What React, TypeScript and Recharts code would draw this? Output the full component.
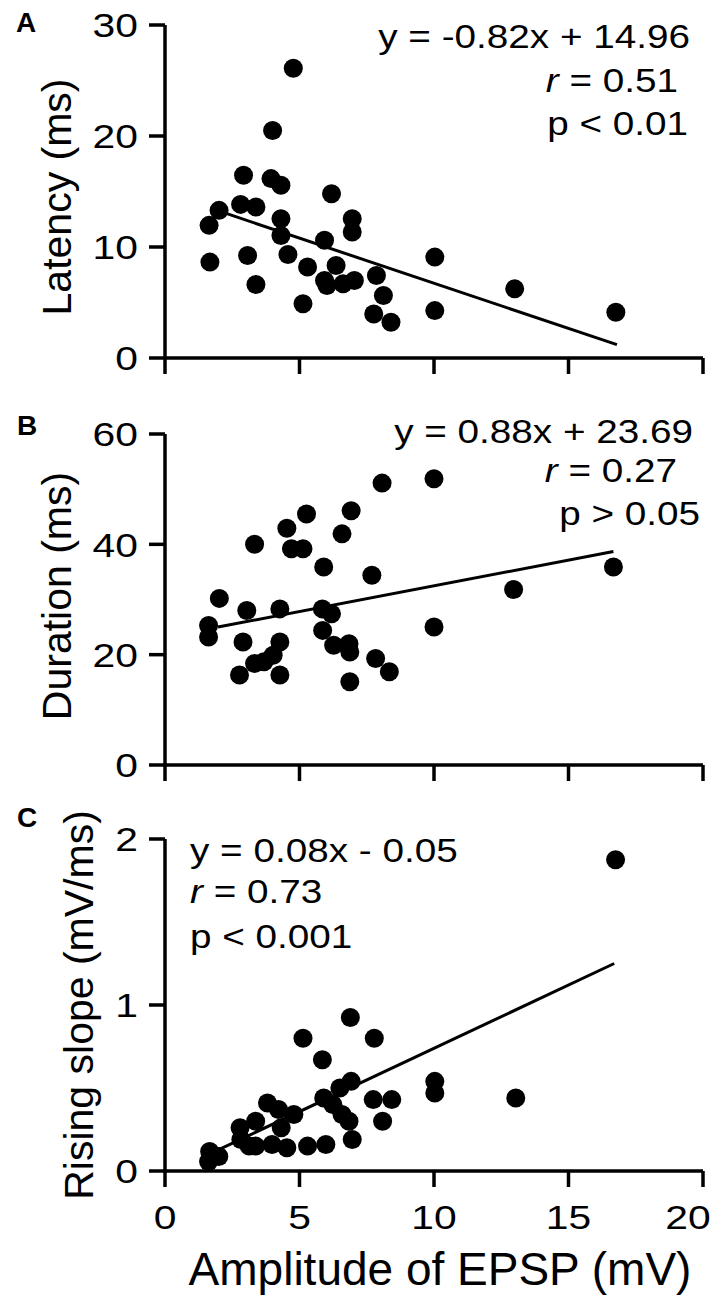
import React from "react";
import { ScatterChart, Scatter, XAxis, YAxis, ReferenceLine } from "recharts";

// Panel A: latency vs EPSP amplitude
const ampA = [1.64, 1.67, 2.01, 2.92, 2.81, 3.38, 3.07, 3.38, 3.94, 4.31, 4.0, 4.77, 4.31, 4.31, 4.57, 5.3, 5.13, 5.93, 6.19, 5.93, 6.36, 6.62, 6.02, 6.96, 6.96, 7.04, 7.86, 8.12, 7.76, 8.4, 10.03, 10.03, 13.0, 16.76];
const latency = [11.95, 8.64, 13.3, 16.46, 13.84, 13.6, 9.24, 6.62, 16.16, 15.56, 20.5, 26.1, 12.55, 11.04, 9.33, 8.19, 4.88, 10.6, 14.8, 6.98, 8.34, 6.68, 6.53, 12.55, 11.35, 6.98, 7.43, 5.63, 3.97, 3.22, 9.09, 4.27, 6.23, 4.12];
const fitA = [{ x: 2.3, y: 13.0 }, { x: 16.8, y: 1.2 }];

// Panel B: duration
const ampB = [1.62, 1.62, 2.02, 3.04, 2.9, 2.77, 3.33, 3.33, 3.68, 4.02, 4.27, 4.27, 4.27, 4.53, 4.7, 5.13, 5.26, 5.9, 5.85, 6.19, 5.86, 6.27, 6.58, 6.92, 6.84, 6.87, 6.87, 7.69, 7.83, 8.07, 8.34, 10.0, 10.0, 12.96, 16.67];
const duration = [25.3, 23.2, 30.2, 28.0, 22.3, 16.3, 40.0, 18.4, 18.7, 19.9, 28.3, 22.3, 16.3, 42.9, 39.2, 39.2, 45.5, 35.9, 28.3, 27.4, 24.4, 21.7, 41.9, 46.1, 22.0, 20.5, 15.1, 34.4, 19.3, 51.1, 16.9, 51.9, 25.0, 31.8, 35.9];
const fitB = [{ x: 1.97, y: 25.0 }, { x: 16.67, y: 38.7 }];

// Panel C: rising slope
const ampC = [1.62, 1.66, 2.0, 2.79, 2.82, 3.13, 3.37, 3.37, 3.81, 3.98, 4.22, 4.32, 4.53, 4.79, 5.13, 5.3, 5.85, 5.9, 5.98, 6.24, 6.5, 6.58, 6.89, 6.92, 6.84, 6.96, 7.78, 7.74, 8.09, 8.43, 10.03, 10.03, 13.04, 16.75];
const slope = [0.057, 0.117, 0.087, 0.26, 0.19, 0.15, 0.3, 0.15, 0.41, 0.16, 0.37, 0.26, 0.14, 0.34, 0.8, 0.15, 0.67, 0.44, 0.16, 0.4, 0.5, 0.34, 0.925, 0.54, 0.3, 0.19, 0.8, 0.43, 0.3, 0.43, 0.54, 0.47, 0.44, 1.875];
const fitC = [{ x: 1.88, y: 0.12 }, { x: 16.7, y: 1.25 }];

const xTicks = [0, 5, 10, 15, 20];
const ticksA = [0, 10, 20, 30];
const ticksB = [0, 20, 40, 60];
const ticksC = [0, 1, 2];

const FONT = "'Liberation Sans', Arial, Helvetica, sans-serif";
const STRETCH = "scale(1.2,1)";

const zip = (xs: number[], ys: number[]) => xs.map((x, i) => ({ x, y: ys[i] }));

const Dot = (p: any) => <circle cx={p.cx} cy={p.cy} r={9.5} fill="#000" />;

const YTick = (p: any) => (
  <g transform={`translate(${p.x},${p.y})`}>
    <text textAnchor="end" dy="0.36em" fontSize={34} fontFamily={FONT} fill="#000" transform={STRETCH}>
      {p.payload.value}
    </text>
  </g>
);

const XTick = (p: any) => {
  const x = p.payload.value === 20 ? p.x - 15 : p.x;
  return (
    <g transform={`translate(${x},${p.y})`}>
      <text textAnchor="middle" dy="0.71em" fontSize={34} fontFamily={FONT} fill="#000" transform={STRETCH}>
        {p.payload.value}
      </text>
    </g>
  );
};

const NoTick = () => <g />;

// annotation line, horizontally stretched like the source lettering
const Note = ({ x, y, anchor, children }: any) => (
  <g transform={`translate(${x},${y})`}>
    <text textAnchor={anchor} fontSize={32.5} fontFamily={FONT} fill="#000" transform="scale(1.19,1)">
      {children}
    </text>
  </g>
);

const Italic = ({ children }: any) => <tspan fontStyle="italic">{children}</tspan>;

interface PanelProps {
  height: number;
  marginTop: number;
  xAxisHeight: number;
  yDomain: [number, number];
  yTicks: number[];
  points: { x: number; y: number }[];
  fit: { x: number; y: number }[];
  showXLabels: boolean;
  children?: React.ReactNode;
}

function Panel({ height, marginTop, xAxisHeight, yDomain, yTicks, points, fit, showXLabels, children }: PanelProps) {
  return (
    <ScatterChart width={716} height={height} margin={{ top: marginTop, right: 13, left: 0, bottom: 0 }}>
      <XAxis
        type="number"
        dataKey="x"
        domain={[0, 20]}
        ticks={xTicks}
        height={xAxisHeight}
        axisLine={{ stroke: "#000", strokeWidth: 3.5 }}
        tickLine={{ stroke: "#000", strokeWidth: 3.5 }}
        tickSize={16}
        tickMargin={18}
        tick={showXLabels ? <XTick /> : <NoTick />}
      />
      <YAxis
        type="number"
        dataKey="y"
        domain={yDomain}
        ticks={yTicks}
        width={165}
        axisLine={{ stroke: "#000", strokeWidth: 3.5 }}
        tickLine={{ stroke: "#000", strokeWidth: 3.5 }}
        tickSize={16}
        tickMargin={11}
        tick={<YTick />}
      />
      <ReferenceLine segment={fit} stroke="#000" strokeWidth={3} />
      <Scatter data={points} shape={Dot} isAnimationActive={false} />
      {children}
    </ScatterChart>
  );
}

export default function App() {
  return (
    <div style={{ position: "absolute", left: 0, top: 0, width: 716, height: 1300, background: "#fff" }}>
      <div style={{ position: "absolute", left: 0, top: 0 }}>
        <Panel height={400} marginTop={25} xAxisHeight={42} yDomain={[0, 30]} yTicks={ticksA} points={zip(ampA, latency)} fit={fitA} showXLabels={false}>
          <text x={16} y={32} fontSize={28} fontWeight="bold" fontFamily={FONT} fill="#000">A</text>
          <text x={71} y={197} transform="rotate(-90 71 197)" textAnchor="middle" fontSize={41} fontFamily={FONT} fill="#000">Latency (ms)</text>
          <Note x={690} y={48} anchor="end">y = -0.82x + 14.96</Note>
          <Note x={678} y={92} anchor="end"><Italic>r</Italic> = 0.51</Note>
          <Note x={688} y={135} anchor="end">p &lt; 0.01</Note>
        </Panel>
      </div>
      <div style={{ position: "absolute", left: 0, top: 400 }}>
        <Panel height={400} marginTop={34} xAxisHeight={35} yDomain={[0, 60]} yTicks={ticksB} points={zip(ampB, duration)} fit={fitB} showXLabels={false}>
          <text x={17} y={35} fontSize={28} fontWeight="bold" fontFamily={FONT} fill="#000">B</text>
          <text x={71} y={196} transform="rotate(-90 71 196)" textAnchor="middle" fontSize={41} fontFamily={FONT} fill="#000">Duration (ms)</text>
          <Note x={693} y={43} anchor="end">y = 0.88x + 23.69</Note>
          <Note x={677} y={82} anchor="end"><Italic>r</Italic> = 0.27</Note>
          <Note x={700} y={125} anchor="end">p &gt; 0.05</Note>
        </Panel>
      </div>
      <div style={{ position: "absolute", left: 0, top: 800 }}>
        <Panel height={500} marginTop={39} xAxisHeight={129} yDomain={[0, 2]} yTicks={ticksC} points={zip(ampC, slope)} fit={fitC} showXLabels={true}>
          <text x={17} y={27} fontSize={28} fontWeight="bold" fontFamily={FONT} fill="#000">C</text>
          <text x={93} y={205} transform="rotate(-90 93 205)" textAnchor="middle" fontSize={41} fontFamily={FONT} fill="#000">Rising slope (mV/ms)</text>
          <Note x={190} y={62} anchor="start">y = 0.08x - 0.05</Note>
          <Note x={190} y={103} anchor="start"><Italic>r</Italic> = 0.73</Note>
          <Note x={190} y={148} anchor="start">p &lt; 0.001</Note>
          <text x={440} y={485} textAnchor="middle" fontSize={46} fontFamily={FONT} fill="#000">Amplitude of EPSP (mV)</text>
        </Panel>
      </div>
    </div>
  );
}
